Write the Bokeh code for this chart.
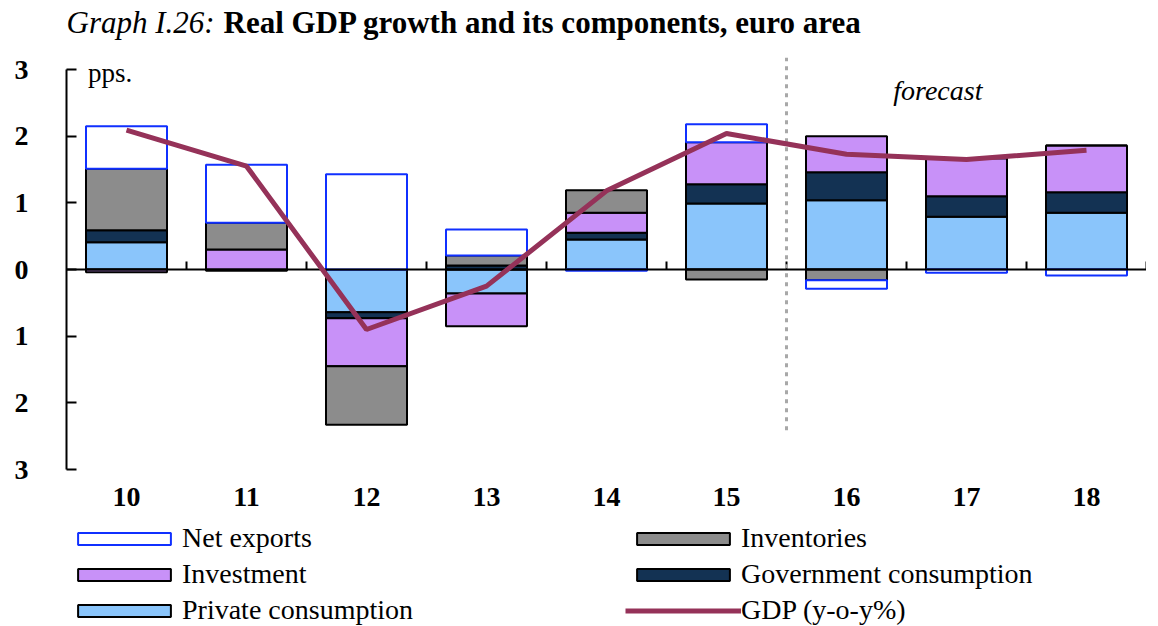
import numpy as np
from bokeh.plotting import figure
from bokeh.layouts import column
from bokeh.models import Range1d, FixedTicker, Label, Legend, LegendItem
from bokeh.embed import file_html
from bokeh.resources import INLINE

# ---- data (pps., y-o-y %) ----
years = ["10", "11", "12", "13", "14", "15", "16", "17", "18"]
priv_cons = [0.41, -0.02, -0.64, -0.36, 0.45, 0.99, 1.04, 0.79, 0.85]
gov_cons = [0.18, 0.00, -0.09, 0.06, 0.10, 0.29, 0.42, 0.31, 0.31]
investment = [-0.04, 0.30, -0.72, -0.49, 0.30, 0.63, 0.54, 0.57, 0.70]
inventories = [0.92, 0.40, -0.88, 0.15, 0.34, -0.15, -0.16, 0.00, 0.00]
net_exports = [0.64, 0.87, 1.43, 0.39, -0.02, 0.27, -0.13, -0.05, -0.09]
gdp = [2.09, 1.55, -0.90, -0.25, 1.18, 2.04, 1.73, 1.65, 1.79]
forecast_from = "16"

y_ticks = [-3, -2, -1, 0, 1, 2, 3]
y_tick_labels = ["3", "2", "1", "0", "1", "2", "3"]

SERIF = "Liberation Serif"
LEFT = 66
FW = 1080
W = LEFT + FW

components = [
    ("Private consumption", priv_cons, "#8ac5fb", "black"),
    ("Government consumption", gov_cons, "#133253", "black"),
    ("Investment", investment, "#c891f8", "black"),
    ("Inventories", inventories, "#8c8c8c", "black"),
    ("Net exports", net_exports, "white", "#1030ff"),
]
GDP_COLOR = "#953259"


def strip(height):
    f = figure(width=W, height=height, x_range=Range1d(0, FW), y_range=Range1d(0, height),
               output_backend="svg", toolbar_location=None,
               min_border_left=LEFT, min_border_right=0, min_border_top=0,
               min_border_bottom=0, x_axis_location=None, y_axis_location=None)
    f.outline_line_color = None
    f.xgrid.visible = False
    f.ygrid.visible = False
    return f


# ---------------- title strip ----------------
TH = 42
tfig = strip(TH)
tfig.add_layout(Label(x=0, y=TH - 22, text="Graph I.26:", text_font=SERIF,
                      text_font_style="italic", text_font_size="31px",
                      text_baseline="middle", text_color="black"))
tfig.add_layout(Label(x=157, y=TH - 22,
                      text="Real GDP growth and its components, euro area",
                      text_font=SERIF, text_font_style="bold", text_font_size="31px",
                      text_baseline="middle", text_color="black"))

# ---------------- main chart ----------------
x = np.arange(len(years))
p = figure(width=W, height=15 + 412 + 50,
           x_range=Range1d(-0.5, len(years) - 0.5),
           y_range=Range1d(-3, 3.18),
           output_backend="svg", toolbar_location=None,
           min_border_left=LEFT, min_border_right=0,
           min_border_top=15, min_border_bottom=50)
p.outline_line_color = None
p.xgrid.visible = False
p.ygrid.visible = False

pos_base = np.zeros(len(years))
neg_base = np.zeros(len(years))
for name, vals, fill, line in components:
    v = np.array(vals, dtype=float)
    bottom = np.where(v >= 0, pos_base, neg_base)
    top = bottom + v
    pos_base = np.where(v >= 0, top, pos_base)
    neg_base = np.where(v < 0, top, neg_base)
    p.vbar(x=x, bottom=bottom, top=top, width=0.675,
           fill_color=fill, line_color=line, line_width=2)

# zero axis line with ticks between categories
p.segment(x0=[-0.5], y0=[0], x1=[len(years) - 0.5], y1=[0],
          line_color="black", line_width=2)
between = x + 0.5
p.segment(x0=between, y0=np.zeros(len(between)), x1=between,
          y1=np.full(len(between), 0.12), line_color="black", line_width=2)

# forecast divider
fx = years.index(forecast_from) - 0.5
p.segment(x0=[fx], y0=[-2.41], x1=[fx], y1=[3.18],
          line_color="#a8a8a8", line_width=3, line_dash="4 5")

# GDP line
p.line(x=x, y=gdp, line_color=GDP_COLOR, line_width=5)

ya = p.yaxis[0]
ya.ticker = FixedTicker(ticks=y_ticks)
ya.major_label_overrides = {t: l for t, l in zip(y_ticks, y_tick_labels)}
ya.bounds = (-3, 3)
ya.axis_line_width = 2
ya.major_tick_line_width = 2
ya.major_tick_in = 10
ya.major_tick_out = 0
ya.minor_tick_line_color = None
ya.major_label_standoff = 38
ya.major_label_text_font = SERIF
ya.major_label_text_font_style = "bold"
ya.major_label_text_font_size = "28px"
ya.major_label_text_color = "black"

xa = p.xaxis[0]
xa.ticker = FixedTicker(ticks=list(x))
xa.major_label_overrides = {int(i): y for i, y in zip(x, years)}
xa.axis_line_color = None
xa.major_tick_line_color = None
xa.minor_tick_line_color = None
xa.major_label_standoff = 12
xa.major_label_text_font = SERIF
xa.major_label_text_font_style = "bold"
xa.major_label_text_font_size = "28px"
xa.major_label_text_color = "black"

p.add_layout(Label(x=-0.32, y=2.95, text="pps.", text_font=SERIF,
                   text_font_size="27px", text_baseline="middle", text_color="black"))
p.add_layout(Label(x=6.39, y=2.68, text="forecast", text_font=SERIF,
                   text_font_style="italic", text_font_size="28px",
                   text_baseline="middle", text_color="black"))

# ---------------- legend strip ----------------
LH = 107
lfig = strip(LH)
swatch = {}
for name, vals, fill, line in components:
    swatch[name] = lfig.vbar(x=x, top=vals, width=0.675, fill_color=fill,
                             line_color=line, line_width=2, visible=False)
swatch["GDP (y-o-y%)"] = lfig.line(x=x, y=gdp, line_color=GDP_COLOR,
                                   line_width=5, visible=False)

GW = 116  # swatch box incl. bokeh's 10% inset -> ~93px drawn


def make_legend(names, loc):
    lg = Legend(items=[LegendItem(label=n, renderers=[swatch[n]]) for n in names],
                location=loc, orientation="vertical",
                glyph_width=GW, glyph_height=15, label_standoff=0,
                spacing=4, padding=0, margin=0,
                border_line_color=None, background_fill_alpha=0,
                inactive_fill_alpha=0,
                label_text_font=SERIF, label_text_font_size="28px",
                label_text_color="black", label_text_baseline="middle")
    lfig.add_layout(lg, "center")


make_legend(["Net exports", "Investment", "Private consumption"], (78 - 12 - LEFT, 0))
make_legend(["Inventories", "Government consumption", "GDP (y-o-y%)"], (637 - 12 - LEFT, 0))

layout = column(tfig, p, lfig, spacing=0)
open("out.html", "w").write(file_html(layout, INLINE))
